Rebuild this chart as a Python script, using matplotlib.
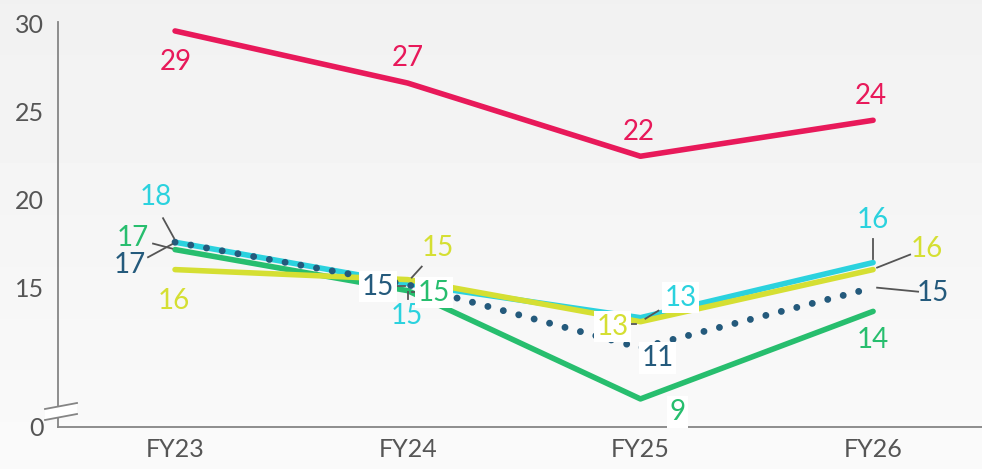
import matplotlib.pyplot as plt
import numpy as np

plt.rcParams['font.family'] = ['Liberation Sans Narrow', 'Lato', 'DejaVu Sans']

years = ['FY23', 'FY24', 'FY25', 'FY26']

red = [29.6, 26.63, 22.46, 24.51]
cyan = [17.56, 15.2, 13.26, 16.4]
yellow = [16.0, 15.43, 13.03, 16.0]
green = [17.14, 14.8, 8.63, 13.62]
navy = [17.56, 15.14, 11.54, 14.97]

red_lbl = ['29', '27', '22', '24']
cyan_lbl = ['18', '15', '13', '16']
yellow_lbl = ['16', '15', '13', '16']
green_lbl = ['17', '15', '9', '14']
navy_lbl = ['17', '15', '11', '15']

c_red, c_cyan, c_yel, c_grn, c_navy = '#E8195A', '#2BD2DE', '#D5DF33', '#27BE6E', '#245A7C'

W, H = 982, 469
fig = plt.figure(figsize=(W / 100, H / 100), dpi=100)

# soft vertical gradient background
bg = fig.add_axes([0, 0, 1, 1], zorder=-10)
bg.imshow(np.linspace(0.945, 0.98, 100).reshape(-1, 1), cmap='gray', vmin=0, vmax=1,
          aspect='auto', extent=[0, 1, 0, 1])
bg.axis('off')

ax = fig.add_axes([58 / W, 1 - 427 / H, 1 - 58 / W, (427 - 22) / H])
ax.patch.set_alpha(0)
x = np.arange(len(years))
ax.set_xlim(-0.503, 3.468)
ax.set_ylim(7.03, 30.11)

for s in ['top', 'right']:
    ax.spines[s].set_visible(False)
for s in ['left', 'bottom']:
    ax.spines[s].set_color('#858585')
    ax.spines[s].set_linewidth(1.3)
ax.tick_params(length=0, labelsize=18, labelcolor='#555555', pad=8)
ax.set_xticks(x, years)
ax.set_yticks([7.03, 15, 20, 25, 30], ['0', '15', '20', '25', '30'])
ax.get_yaxis().set_tick_params(pad=10)

lw = 4
ax.plot(x, red, color=c_red, lw=lw, solid_capstyle='round', zorder=3)
ax.plot(x, cyan, color=c_cyan, lw=lw, solid_capstyle='round', zorder=3)
ax.plot(x, green, color=c_grn, lw=lw, solid_capstyle='round', zorder=3)
ax.plot(x, yellow, color=c_yel, lw=lw, solid_capstyle='round', zorder=4)
ax.plot(x, navy, color=c_navy, lw=5, linestyle=(0, (0.001, 2.3)),
        dash_capstyle='round', zorder=5)

fig.canvas.draw()

def put(vals, labels, color, specs):
    for i, (v, t) in enumerate(zip(vals, labels)):
        dx, dy, box, lead = specs[i]
        px, py = ax.transData.transform((i, v))
        kw = {}
        if box:
            kw['bbox'] = dict(facecolor='white', edgecolor='none', pad=2)
        fig.text(px + dx, py - dy, t, transform=None, color=color, fontsize=20,
                 ha='center', va='center', zorder=8, **kw)
        if lead:
            x0, y0, x1, y1 = lead
            ax.plot([px + x0, px + x1], [py - y0, py - y1], transform=None,
                    color='#555555', lw=1.3, zorder=7, clip_on=False)

put(red, red_lbl, c_red, [(1, 31, False, None), (0, -25, False, None),
                          (-2, -24, False, None), (-2, -24, False, None)])
put(cyan, cyan_lbl, c_cyan, [(-19, -45, False, (-12, -24, -1, -4)),
                             (-1, 32, False, (0, 8, 0, 15)),
                             (40, -20, True, (5, 1, 18, -7)),
                             (0, -43, False, (0, -24, 0, -4))])
put(yellow, yellow_lbl, c_yel, [(-1, 31, False, None),
                                (30, -32, False, (14, -13, 4, -2)),
                                (-28, 5, True, (-11, 2, -4, 2)),
                                (54, -21, False, (4, -2, 37, -15))])
put(green, green_lbl, c_grn, [(-42, -12, False, (-22, -6, -3, -1)),
                              (26, 2, True, (4, 1, 16, 1)),
                              (37, 13, True, None),
                              (0, 29, False, None)])
put(navy, navy_lbl, c_navy, [(-45, 23, False, (-27, 15, -3, 2)),
                             (-30, 2, True, (-11, 1, -3, 1)),
                             (17, 10, True, None),
                             (60, 5, False, (4, 0, 45, 4))])

# axis break marks
brk = np.array([[45, 409], [77, 403], [77, 414], [45, 420]], dtype=float)
fig.patches.append(plt.Polygon(np.c_[brk[:, 0], H - brk[:, 1]], closed=True,
                               transform=None, facecolor='white', edgecolor='none', zorder=6))
for (a, b) in [(brk[0], brk[1]), (brk[3], brk[2])]:
    fig.lines.append(plt.Line2D([a[0], b[0]], [H - a[1], H - b[1]], transform=None,
                                color='#858585', lw=1.3, zorder=7))

fig.savefig('out.png', dpi=100)
